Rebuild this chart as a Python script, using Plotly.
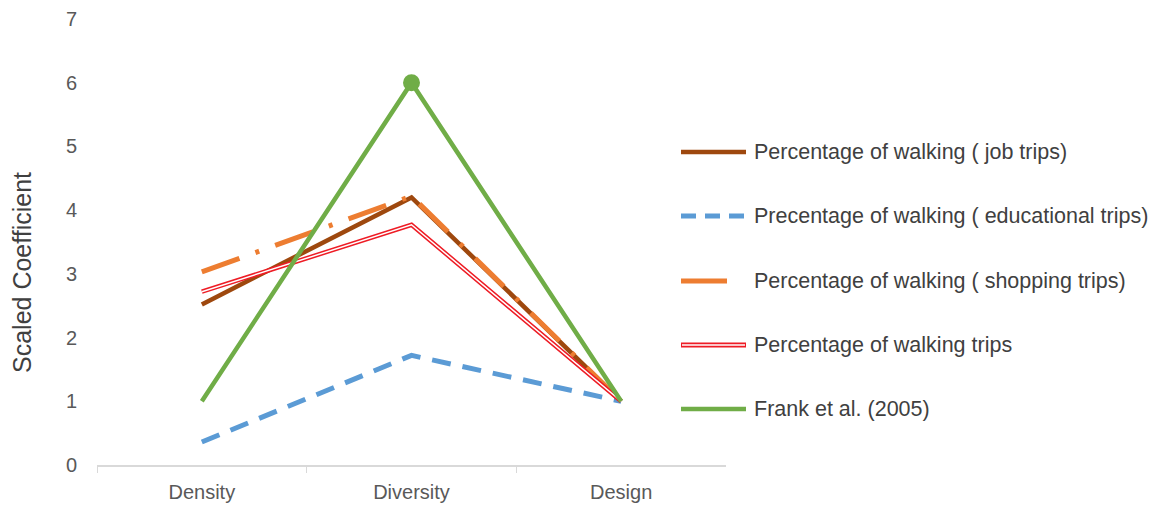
import plotly.graph_objects as go

W, H = 1163, 505

categories = ["Density", "Diversity", "Design"]
job_trips = [2.52, 4.20, 1.0]
educational_trips = [0.36, 1.72, 1.0]
shopping_trips = [3.03, 4.22, 1.0]
walking_trips = [2.72, 3.77, 1.0]
frank_2005 = [1.0, 6.0, 1.0]

series_names = [
    "Percentage of walking ( job trips)",
    "Precentage of walking ( educational trips)",
    "Percentage of walking ( shopping trips)",
    "Percentage of walking trips",
    "Frank et al. (2005)",
]

BROWN = "#9E480E"
BLUE = "#5B9BD5"
ORANGE = "#ED7D31"
RED = "#EE1C25"
GREEN = "#70AD47"
TEXT = "#595959"
FONT = "Liberation Sans, Arial"

# plot area in pixels
px_left, px_right = 97, 726
px_y0, px_y7 = 465, 19

fig = go.Figure()

fig.add_trace(go.Scatter(x=categories, y=job_trips, mode="lines",
                         line=dict(color=BROWN, width=4.5), showlegend=False))
fig.add_trace(go.Scatter(x=categories, y=educational_trips, mode="lines",
                         line=dict(color=BLUE, width=5, dash="19px,12px"), showlegend=False))
fig.add_trace(go.Scatter(x=categories, y=shopping_trips, mode="lines",
                         line=dict(color=ORANGE, width=5, dash="40px,17px,4px,17px"),
                         showlegend=False))
# double line: red outer stroke with a thin white core
fig.add_trace(go.Scatter(x=categories, y=walking_trips, mode="lines",
                         line=dict(color=RED, width=4.5), showlegend=False))
fig.add_trace(go.Scatter(x=categories, y=walking_trips, mode="lines",
                         line=dict(color="white", width=1.5), showlegend=False))
fig.add_trace(go.Scatter(x=categories, y=frank_2005, mode="lines",
                         line=dict(color=GREEN, width=4.5), showlegend=False))
# single marker on the peak of the Frank et al. series
fig.add_trace(go.Scatter(x=[categories[1]], y=[frank_2005[1]], mode="markers",
                         marker=dict(color=GREEN, size=17, opacity=1, line=dict(width=0)),
                         showlegend=False))

# legend drawn as swatches and labels
legend_y = [152, 216, 281, 345, 409]
sw_x0, sw_x1, text_x = 681, 746, 752
shapes = []
annotations = []


def pl(x, y):
    return x / W, 1 - y / H


for i, (name, yy) in enumerate(zip(series_names, legend_y)):
    x0, y0 = pl(sw_x0, yy)
    x1, _ = pl(sw_x1, yy)
    if i == 0:
        shapes.append(dict(type="line", xref="paper", yref="paper", x0=x0, x1=x1, y0=y0, y1=y0,
                           line=dict(color=BROWN, width=4.5)))
    elif i == 1:
        shapes.append(dict(type="line", xref="paper", yref="paper", x0=x0, x1=x1, y0=y0, y1=y0,
                           line=dict(color=BLUE, width=5, dash="15px,9px")))
    elif i == 2:
        xs, _ = pl(727, yy)
        shapes.append(dict(type="line", xref="paper", yref="paper", x0=x0, x1=xs, y0=y0, y1=y0,
                           line=dict(color=ORANGE, width=5)))
    elif i == 3:
        shapes.append(dict(type="line", xref="paper", yref="paper", x0=x0, x1=x1, y0=y0, y1=y0,
                           line=dict(color=RED, width=5)))
        shapes.append(dict(type="line", xref="paper", yref="paper", x0=x0 + 1 / W, x1=x1 - 1 / W,
                           y0=y0, y1=y0, line=dict(color="white", width=1.5)))
    else:
        shapes.append(dict(type="line", xref="paper", yref="paper", x0=x0, x1=x1, y0=y0, y1=y0,
                           line=dict(color=GREEN, width=4.5)))
    tx, ty = pl(text_x, yy)
    annotations.append(dict(x=tx, y=ty, xref="paper", yref="paper", text=name,
                            showarrow=False, xanchor="left", yanchor="middle",
                            font=dict(family=FONT, size=21.5, color="#404040")))

# y-axis title
annotations.append(dict(x=22 / W, y=1 - 273 / H, xref="paper", yref="paper",
                        text="Scaled Coefficient", textangle=-90, showarrow=False,
                        xanchor="center", yanchor="middle",
                        font=dict(family=FONT, size=25, color="#404040")))

fig.update_layout(
    width=W, height=H,
    margin=dict(l=0, r=0, t=0, b=0),
    paper_bgcolor="white", plot_bgcolor="white",
    shapes=shapes, annotations=annotations,
    xaxis=dict(
        domain=[px_left / W, px_right / W],
        type="category", range=[-0.5, 2.5],
        automargin=False,
        showgrid=False, zeroline=False,
        showline=True, linecolor="#D9D9D9", linewidth=1.5,
        ticks="outside", tickson="boundaries", ticklen=6, tickcolor="#D9D9D9",
        tickfont=dict(family=FONT, size=20, color=TEXT),
        ticklabelstandoff=8,
    ),
    yaxis=dict(
        domain=[1 - px_y0 / H, 1 - px_y7 / H],
        range=[0, 7], dtick=1,
        automargin=False,
        showgrid=False, zeroline=False, showline=False,
        tickfont=dict(family=FONT, size=20, color=TEXT),
        ticklabelstandoff=19,
    ),
)

fig.write_html("out.html")
